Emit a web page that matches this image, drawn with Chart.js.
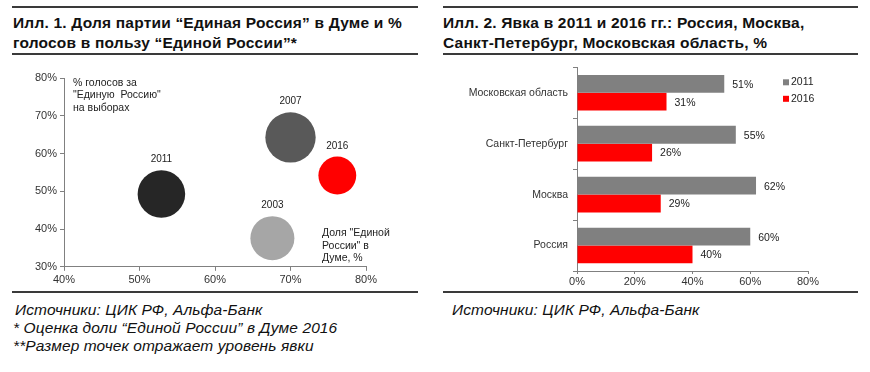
<!DOCTYPE html>
<html>
<head>
<meta charset="utf-8">
<script src="https://cdn.jsdelivr.net/npm/chart.js@4.4.1/dist/chart.umd.min.js"></script>
<style>
  body { margin: 0; background: #fff; font-family: "Liberation Sans", Arial, sans-serif; }
  #page { position: relative; width: 870px; height: 372px; overflow: hidden; }
  .rule { position: absolute; height: 0; border-top: 2px solid #3a3a3a; }
  .title { position: absolute; font-weight: bold; font-size: 15.5px; letter-spacing: 0.2px; line-height: 19.5px; color: #111; }
  .src { position: absolute; font-style: italic; font-size: 15.5px; letter-spacing: 0.1px; line-height: 18px; color: #111; }
  canvas { position: absolute; }
</style>
</head>
<body>
<div id="page">
  <div class="rule" style="left:12px; top:6px; width:406px;"></div>
  <div class="title" style="left:13px; top:13px;">Илл. 1. Доля партии “Единая Россия” в Думе и %<br>голосов в пользу “Единой России”*</div>
  <div class="rule" style="left:12px; top:53px; width:406px;"></div>

  <div class="rule" style="left:443px; top:6px; width:415px;"></div>
  <div class="title" style="left:443px; top:13px;">Илл. 2. Явка в 2011 и 2016 гг.: Россия, Москва,<br>Санкт-Петербург, Московская область, %</div>
  <div class="rule" style="left:443px; top:53px; width:415px;"></div>

  <!-- canvas offsets compensate for bubble overflow / tick padding that Chart.js adds on top -->
  <canvas id="bubbleChart" width="420" height="239" style="left:0; top:53px;"></canvas>
  <canvas id="barChart" width="430" height="236" style="left:440px; top:56px;"></canvas>

  <div class="rule" style="left:12px; top:291px; width:406px;"></div>
  <div class="rule" style="left:443px; top:291px; width:415px;"></div>

  <div class="src" style="left:15px; top:301px;">Источники: ЦИК РФ, Альфа-Банк</div>
  <div class="src" style="left:13px; top:319px;">* Оценка доли “Единой России” в Думе 2016</div>
  <div class="src" style="left:13px; top:337px;">**Размер точек отражает уровень явки</div>
  <div class="src" style="left:452px; top:301px;">Источники: ЦИК РФ, Альфа-Банк</div>
</div>

<script>
    // Илл. 1 - доля мест в Думе, % голосов, явка
    const years = ["2003", "2007", "2011", "2016"];
    const dumaShare = [67.6, 70.0, 52.9, 76.2];
    const voteShare = [37.6, 64.3, 49.3, 54.2];
    const turnout = [55.7, 63.7, 60.2, 47.9];
    const bubbleColors = ["#a6a6a6", "#595959", "#262626", "#ff0000"];

    // Илл. 2 - явка по регионам
    const regions = ["Московская область", "Санкт-Петербург", "Москва", "Россия"];
    const turnout2011 = [51, 55, 62, 60];
    const turnout2016 = [31, 26, 29, 40];

    const tickFont = { family: "Liberation Sans", size: 11 };
    const tickColor = "#333";
    const axisColor = "#808080";

    // bubble radius proportional to turnout
    const radiusOf = t => t * 0.395;

    const fixWidth = w => function (scale) { scale.width = w; };
    const fixHeight = h => function (scale) { scale.height = h; };

    const bubbleLabels = {
        id: "bubbleLabels",
        afterDatasetsDraw(chart) {
            const ctx = chart.ctx;
            const meta = chart.getDatasetMeta(0);
            const area = chart.chartArea;
            ctx.save();
            ctx.font = "10px Liberation Sans";
            ctx.fillStyle = "#222";
            ctx.textAlign = "center";
            ctx.textBaseline = "middle";
            meta.data.forEach((pt, i) => {
                const r = chart.data.datasets[0].data[i].r;
                ctx.fillText(years[i], pt.x, pt.y - r - 10.5);
            });
            // axis captions
            ctx.textAlign = "left";
            ctx.font = "10.5px Liberation Sans";
            ["% голосов за", "\"Единую  Россию\"", "на выборах"].forEach((s, i) => {
                ctx.fillText(s, area.left + 9, area.top + 5 + i * 12.3);
            });
            ["Доля \"Единой", "России\" в", "Думе, %"].forEach((s, i) => {
                ctx.fillText(s, area.left + 258, area.top + 155 + i * 12.5);
            });
            ctx.restore();
        }
    };

    new Chart(document.getElementById("bubbleChart"), {
        type: "bubble",
        data: {
            datasets: [{
                data: years.map((y, i) => ({ x: dumaShare[i], y: voteShare[i], r: radiusOf(turnout[i]) })),
                backgroundColor: bubbleColors,
                borderWidth: 0
            }]
        },
        options: {
            responsive: false,
            animation: false,
            clip: false,
            layout: { padding: { left: 0, right: 54, top: 18, bottom: 0 } },
            plugins: { legend: { display: false }, tooltip: { enabled: false } },
            scales: {
                x: {
                    min: 40, max: 80,
                    ticks: { stepSize: 10, font: tickFont, color: tickColor, padding: 3, callback: v => v + "%" },
                    grid: { drawOnChartArea: false, drawTicks: true, tickLength: 4, color: axisColor },
                    border: { color: axisColor },
                    afterFit: fixHeight(25)
                },
                y: {
                    min: 30, max: 80,
                    ticks: { stepSize: 10, font: tickFont, color: tickColor, padding: 3, callback: v => v + "%" },
                    grid: { drawOnChartArea: false, drawTicks: true, tickLength: 4, color: axisColor },
                    border: { color: axisColor },
                    afterFit: fixWidth(64)
                }
            }
        },
        plugins: [bubbleLabels]
    });

    const barLabels = {
        id: "barLabels",
        afterDatasetsDraw(chart) {
            const ctx = chart.ctx;
            ctx.save();
            ctx.font = "10.5px Liberation Sans";
            ctx.fillStyle = "#222";
            ctx.textAlign = "left";
            ctx.textBaseline = "middle";
            chart.data.datasets.forEach((ds, di) => {
                chart.getDatasetMeta(di).data.forEach((bar, i) => {
                    ctx.fillText(ds.data[i] + "%", bar.x + 8, bar.y + 1);
                });
            });
            // legend
            chart.data.datasets.forEach((ds, di) => {
                const y = chart.chartArea.top + 15 + di * 16.5;
                const x = chart.chartArea.left + 206;
                ctx.fillStyle = ds.backgroundColor;
                ctx.fillRect(x, y - 3, 6, 6);
                ctx.fillStyle = "#222";
                ctx.fillText(ds.label, x + 8, y);
            });
            ctx.restore();
        }
    };

    new Chart(document.getElementById("barChart"), {
        type: "bar",
        data: {
            labels: regions,
            datasets: [
                { label: "2011", data: turnout2011, backgroundColor: "#808080" },
                { label: "2016", data: turnout2016, backgroundColor: "#ff0000" }
            ]
        },
        options: {
            indexAxis: "y",
            responsive: false,
            animation: false,
            layout: { padding: { left: 0, right: 62, top: 8, bottom: 0 } },
            datasets: { bar: { categoryPercentage: 0.7, barPercentage: 1.0 } },
            plugins: { legend: { display: false }, tooltip: { enabled: false } },
            scales: {
                x: {
                    min: 0, max: 80,
                    ticks: { stepSize: 20, font: tickFont, color: tickColor, padding: 1, callback: v => v + "%" },
                    grid: { drawOnChartArea: false, drawTicks: true, tickLength: 3, color: axisColor },
                    border: { color: axisColor },
                    afterFit: fixHeight(21)
                },
                y: {
                    ticks: { font: { family: "Liberation Sans", size: 10.5 }, color: tickColor, padding: 5 },
                    grid: { drawOnChartArea: false, drawTicks: true, tickLength: 4, color: axisColor },
                    border: { color: axisColor },
                    afterFit: fixWidth(137)
                }
            }
        },
        plugins: [barLabels]
    });
</script>
</body>
</html>
